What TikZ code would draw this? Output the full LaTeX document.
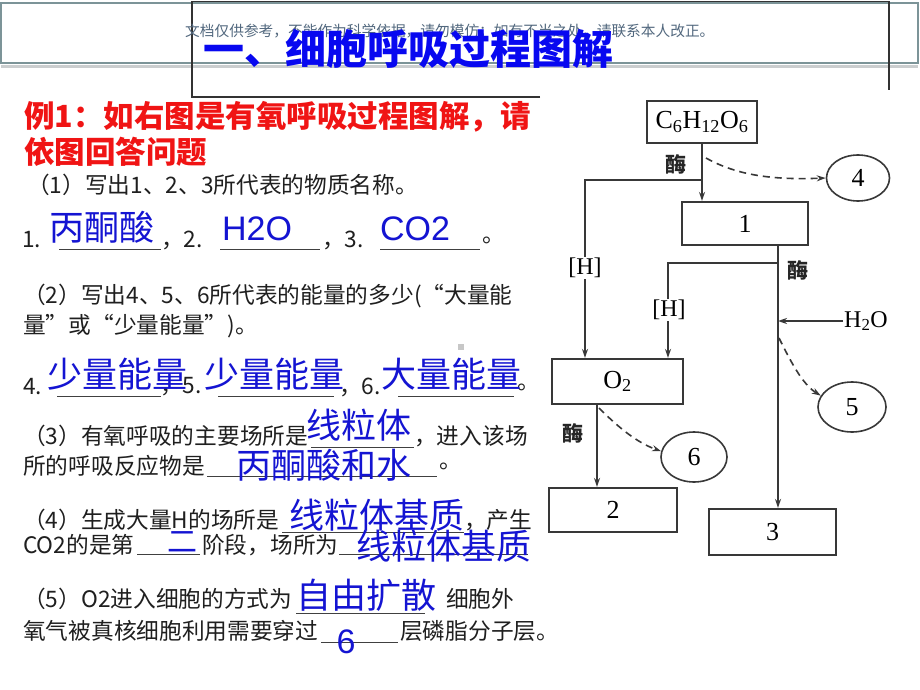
\documentclass[tikz,border=0pt]{standalone}
\usepackage{fontspec}
\setmainfont{Liberation Sans}
\newfontfamily\cjk{Noto Sans CJK SC}
\newfontfamily\tms{Liberation Serif}
\usetikzlibrary{arrows.meta,shapes.geometric}
\definecolor{ansblue}{HTML}{1414D2}
\definecolor{titleblue}{HTML}{0808F0}
\definecolor{headred}{HTML}{F01414}
\definecolor{wmcol}{HTML}{52687E}
\definecolor{framecol}{HTML}{7C9498}
\definecolor{diag}{HTML}{383838}
\tikzset{
  txt/.style={inner sep=0pt, anchor=west, font=\cjk\fontsize{22.7}{26}\selectfont, text=black!88},
  redhead/.style={inner sep=0pt, anchor=west, font=\cjk\bfseries\fontsize{30.5}{34}\selectfont, text=headred},
  ans/.style={inner sep=0pt, font=\cjk\fontsize{35}{40}\selectfont, text=ansblue},
  ansl/.style={inner sep=0pt, font=\fontsize{34}{40}\selectfont, text=ansblue},
  uline/.style={line width=1pt, black!75},
  dbox/.style={draw=diag, line width=2.2pt, inner sep=0pt, font=\tms\fontsize{26}{30}\selectfont},
  lbl/.style={inner sep=1pt, font=\tms\fontsize{24}{28}\selectfont},
  enz/.style={inner sep=0pt, font=\cjk\bfseries\fontsize{21}{24}\selectfont, text=black!85},
  oval/.style={draw=diag, line width=1.6pt, ellipse, inner sep=0pt, font=\tms\fontsize{26}{30}\selectfont},
  conn/.style={draw=diag, line width=1.9pt, -{Stealth[length=9pt,width=6pt]}},
  dconn/.style={draw=diag, line width=1.6pt, dash pattern=on 7pt off 5pt, -{Stealth[length=9pt,width=6pt]}}
}
\begin{document}
\begin{tikzpicture}[x=1pt,y=-1pt]
\useasboundingbox[fill=white] (0,0) rectangle (920,690);

% top frame
\draw[line width=3pt, color=black!15!white!85!framecol] (1,66.5) -- (918,66.5);
\draw[line width=2.4pt, framecol] (1,3) rectangle (918,63);
\draw[line width=1.2pt, black!80] (540,97) -- (192,97) -- (192,1.5) -- (889,1.5) -- (889,90);

% watermark and title
\node[inner sep=0pt, anchor=west, font=\cjk\fontsize{14.7}{17}\selectfont, text=wmcol] (wm) at (185,31) {文档仅供参考，不能作为科学依据，请勿模仿；如有不当之处，请联系本人改正。};
\node[inner sep=0pt, anchor=west, font=\cjk\bfseries\fontsize{41}{46}\selectfont, text=titleblue] (title) at (203,49) {一、细胞呼吸过程图解};

% red heading
\node[redhead] (r1) at (24,117) {例1：如右图是有氧呼吸过程图解，请};
\node[redhead] (r2) at (24,152) {依图回答问题};

% question 1
\node[txt] (q1) at (27,185) {（1）写出1、2、3所代表的物质名称。};
\draw[uline] (59,249) -- (161,249);
\draw[uline] (220,249) -- (320,249);
\draw[uline] (380,249) -- (480,249);
\node[txt] (a1n) at (22,240) {1.};
\node[txt] (a2n) at (161,240) {，2.};
\node[txt] (a3n) at (322,240) {，3.};
\node[txt] (a4n) at (482,240) {。};
\node[ans] (ans1) at (102,227) {丙酮酸};
\node[ansl] (ans2) at (257,229) {H2O};
\node[ansl] (ans3) at (415,229) {CO2};

% question 2
\node[txt] (q2a) at (23,296) {（2）写出4、5、6所代表的能量的多少(“大量能};
\node[txt] (q2b) at (23,326) {量”或“少量能量”)。};
\fill[black!22] (458,344) rectangle (464,350);
\draw[uline] (57,396) -- (161,396);
\draw[uline] (218,396) -- (334,396);
\draw[uline] (398,396) -- (514,396);
\node[txt] (b1n) at (23,387) {4.};
\node[txt] (b2n) at (160,387) {，5.};
\node[txt] (b3n) at (339,387) {，6.};
\node[txt] (b4n) at (517,387) {。};
\node[ans] (ans4) at (117,374) {少量能量};
\node[ans] (ans5) at (274,374) {少量能量};
\node[ans] (ans6) at (451,374) {大量能量};

% question 3
\draw[uline] (311,447) -- (414,447);
\draw[uline] (207,476) -- (437,476);
\node[txt] (q3a) at (23,436) {（3）有氧呼吸的主要场所是};
\node[txt] (q3b) at (414,436) {，进入该场};
\node[ans] (ans7) at (359,425) {线粒体};
\node[txt] (q3c) at (23,466) {所的呼吸反应物是};
\node[txt] (q3d) at (439,466) {。};
\node[ans] (ans8) at (324,465) {丙酮酸和水};

% question 4
\draw[uline] (282,532) -- (464,532);
\draw[uline] (137,554) -- (200,554);
\draw[uline] (339,554) -- (528,554);
\node[txt] (q4a) at (23,520) {（4）生成大量H的场所是};
\node[txt] (q4b) at (464,520) {，产生};
\node[ans] (ans9) at (377,515) {线粒体基质};
\node[txt] (q4c) at (23,545) {CO2的是第};
\node[txt] (q4d) at (202,545) {阶段，场所为};
\node[ans, font=\cjk\fontsize{30}{34}\selectfont] (ans10) at (182,542) {二};
\node[ans] (ans11) at (444,546) {线粒体基质};

% question 5
\draw[uline] (296,613) -- (425,613);
\draw[uline] (321,642) -- (398,642);
\node[txt] (q5a) at (23,599) {（5）O2进入细胞的方式为};
\node[ans] (ans12) at (366,595) {自由扩散};
\node[txt] (q5b) at (446,599) {细胞外};
\node[txt] (q5c) at (23,631) {氧气被真核细胞利用需要穿过};
\node[ansl] (ans13) at (346,642) {6};
\node[txt] (q5d) at (400,631) {层磷脂分子层。};

% ---------- diagram ----------
\node[dbox, minimum width=110pt, minimum height=42pt] (glc) at (702,122) {C\textsubscript{6}H\textsubscript{12}O\textsubscript{6}};
\node[dbox, minimum width=126pt, minimum height=43pt] (b1) at (745,223.5) {1};
\node[dbox, minimum width=131pt, minimum height=45pt] (o2) at (617.5,381.5) {O\textsubscript{2}};
\node[dbox, minimum width=128pt, minimum height=44pt] (b2) at (613,510) {2};
\node[dbox, minimum width=127pt, minimum height=46pt] (b3) at (772.5,532) {3};

\node[oval, minimum width=63pt, minimum height=46pt] (c4) at (858,178) {4};
\node[oval, minimum width=68pt, minimum height=50pt] (c5) at (852,407) {5};
\node[oval, minimum width=66pt, minimum height=50pt] (c6) at (694,457) {6};

\coordinate (j1) at (702,180);
\coordinate (hL) at (585,180);
\coordinate (b1o) at (778,245);
\coordinate (j2) at (778,263);
\coordinate (hR) at (668,263);
\coordinate (o2o) at (597,404);
\coordinate (d4s) at (706,158);
\coordinate (d5s) at (779,338);
\coordinate (d6s) at (599,408);

\draw[conn] (glc.south) -- (glc.south |- b1.north);
\draw[conn] (j1) -- (hL) -- (hL |- o2.north);
\draw[conn] (b1o) -- (b1o |- b3.north);
\draw[conn] (j2) -- (hR) -- (hR |- o2.north);
\draw[conn] (o2o) -- (o2o |- b2.north);

\node[lbl, fill=white] (hl1) at (585,268) {[H]};
\node[lbl, fill=white] (hl2) at (669,310) {[H]};
\node[lbl] (h2o) at (866,321) {H\textsubscript{2}O};
\draw[conn] (h2o.west) -- (h2o.west -| b1o);

\node[enz] (e1) at (676,164) {酶};
\node[enz] (e2) at (798,270) {酶};
\node[enz] (e3) at (573,433) {酶};

\draw[dconn] (d4s) .. controls (738,176) and (775,180) .. (c4.west);
\draw[dconn] (d5s) .. controls (790,360) and (802,384) .. (c5.160);
\draw[dconn] (d6s) .. controls (615,424) and (635,442) .. (c6.170);
\end{tikzpicture}
\end{document}
